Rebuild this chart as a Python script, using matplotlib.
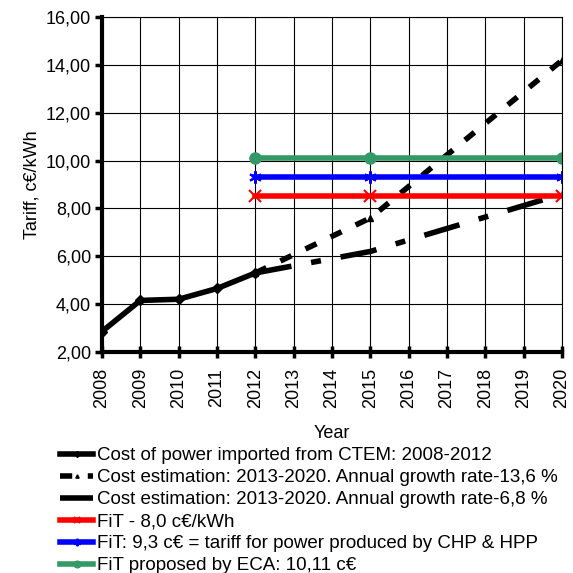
import matplotlib
matplotlib.use("Agg")
import matplotlib.pyplot as plt
from matplotlib.ticker import FuncFormatter
from matplotlib.legend_handler import HandlerLine2D

plt.rcParams['font.family'] = ['Liberation Sans', 'DejaVu Sans']

years_hist = [2008, 2009, 2010, 2011, 2012]
cost_hist = [2.85, 4.15, 4.2, 4.65, 5.3]

years_est = [2012, 2015, 2020]
cost_high = [5.3, 7.6, 14.2]
cost_low = [5.3, 6.2, 8.6]

fit_80 = [8.5, 8.5, 8.5]
fit_93 = [9.3, 9.3, 9.3]
fit_eca = [10.1, 10.1, 10.1]

labels = [
    'Cost of power imported from CTEM: 2008-2012',
    'Cost estimation: 2013-2020. Annual growth rate-13,6 %',
    'Cost estimation: 2013-2020. Annual growth rate-6,8 %',
    'FiT - 8,0 c€/kWh',
    'FiT: 9,3 c€ = tariff for power produced by CHP & HPP',
    'FiT proposed by ECA: 10,11 c€',
]


# legend marker sits at the left end of the line, like in Excel
class LeftMarker(HandlerLine2D):
    def get_xdata(self, legend, xdescent, ydescent, width, height, fontsize):
        xdata, _ = super().get_xdata(legend, xdescent, ydescent, width, height, fontsize)
        return xdata, [xdata[0] + 2]


fig = plt.figure(figsize=(5.73, 5.73), dpi=100)
ax = fig.add_axes([0.178, 0.386, 0.803, 0.584])

lines = []
lines += ax.plot(years_hist, cost_hist, color='black', lw=4, marker='D', ms=5, label=labels[0])
lines += ax.plot(years_est, cost_high, color='black', lw=4, ls=(0, (2.2, 2.8)), marker='^', ms=4,
                 label=labels[1])
lines += ax.plot(years_est, cost_low, color='black', lw=4, ls=(0, (6.6, 3.6, 1.8, 3.6)), marker='',
                 label=labels[2])
lines += ax.plot(years_est, fit_80, color='#ff0000', lw=4, marker='x', ms=8, mew=1.5, label=labels[3])
lines += ax.plot(years_est, fit_93, color='#0000ff', lw=4, marker=(6, 2, 0), ms=9, mew=1.5,
                 label=labels[4])
lines += ax.plot(years_est, fit_eca, color='#339966', lw=4, marker='o', ms=8, label=labels[5])

ax.set_xlim(2008, 2020)
ax.set_ylim(2, 16)
ax.set_xticks(range(2008, 2021))
ax.set_xticklabels([str(y) for y in range(2008, 2021)], rotation=90, fontsize=13)
ax.set_yticks(range(2, 17, 2))
ax.yaxis.set_major_formatter(FuncFormatter(lambda v, p: f'{v:.2f}'.replace('.', ',')))
ax.tick_params(axis='y', labelsize=13, direction='out', length=5, width=2.5, pad=3)
ax.tick_params(axis='x', direction='inout', length=9, width=2.5, pad=7)
ax.grid(True, color='black', lw=0.8)
ax.set_axisbelow(True)
for s in ['left', 'bottom']:
    ax.spines[s].set_linewidth(3)
for s in ['top', 'right']:
    ax.spines[s].set_linewidth(0.8)
ax.set_xlabel('Year', fontsize=13, labelpad=12)
ax.set_ylabel('Tariff, c€/kWh', fontsize=13, labelpad=4)

ax.legend(loc='upper left', bbox_to_anchor=(-0.091, -0.285), frameon=False, fontsize=13.5,
          handlelength=1.76, handletextpad=0.2, labelspacing=0.26, borderaxespad=0,
          borderpad=0, markerscale=0.6, numpoints=1,
          handler_map={ln: LeftMarker() for ln in lines})

fig.savefig('out.png', dpi=100)
